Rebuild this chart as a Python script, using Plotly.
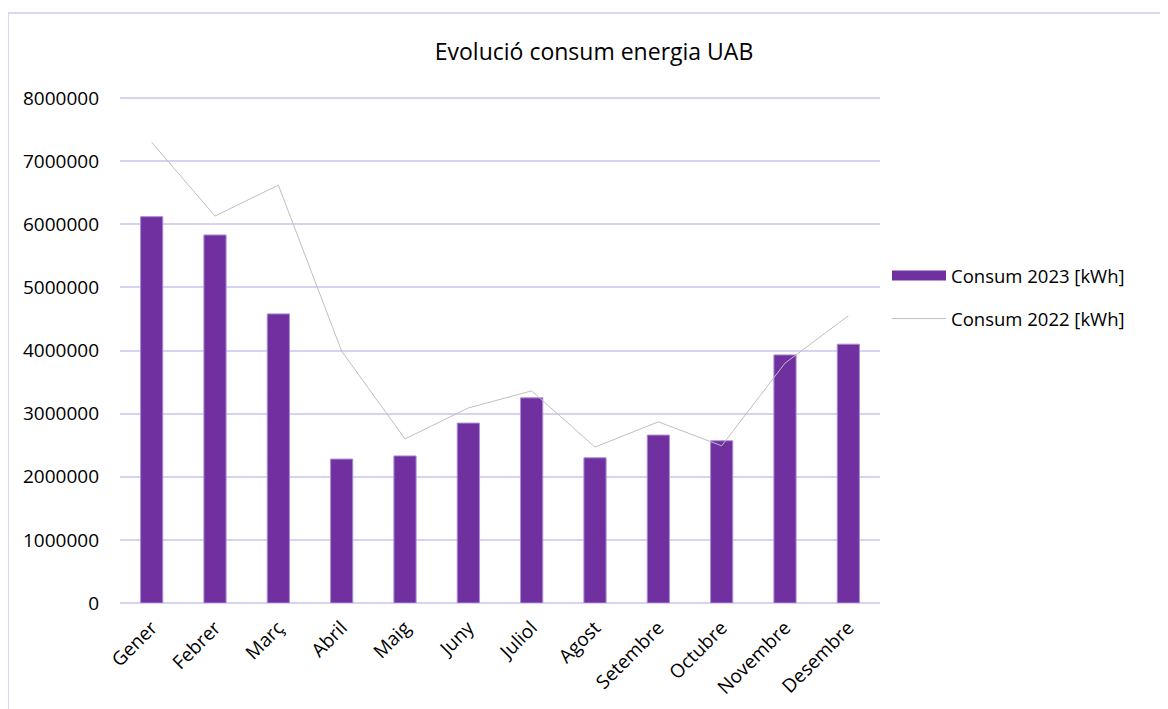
import plotly.graph_objects as go

months = ["Gener", "Febrer", "Març", "Abril", "Maig", "Juny", "Juliol",
          "Agost", "Setembre", "Octubre", "Novembre", "Desembre"]
consum_2023 = [6120000, 5830000, 4580000, 2280000, 2330000, 2850000, 3250000,
               2300000, 2660000, 2570000, 3930000, 4100000]
consum_2022 = [7300000, 6130000, 6620000, 3990000, 2600000, 3090000, 3360000,
               2470000, 2870000, 2490000, 3800000, 4550000]
y_ticks = [0, 1000000, 2000000, 3000000, 4000000, 5000000, 6000000, 7000000, 8000000]

FONT = "Open Sans"
GRID = "#d6d2f2"
PURPLE = "#7030a0"

fig = go.Figure()
fig.add_trace(go.Bar(
    x=months, y=consum_2023, name="Consum 2023 [kWh]",
    marker=dict(color=PURPLE, line=dict(color="#a98bd3", width=1)),
    width=0.35, showlegend=False,
))
# legend entry for the bars drawn as a wide rectangle (as in the original)
fig.add_trace(go.Scatter(
    x=[None], y=[None], name="Consum 2023 [kWh]", mode="lines",
    line=dict(color=PURPLE, width=12), legendgroup="a",
))
fig.add_trace(go.Scatter(
    x=months, y=consum_2022, name="Consum 2022 [kWh]", mode="lines",
    line=dict(color="#bfbfbf", width=1), legendgroup="b",
))

W, H = 1160, 701
L, R, T, B = 112, 872, 87, 595
y_top = 8000000 * (B - T) / 505

fig.update_layout(
    width=W, height=H,
    margin=dict(l=L, r=W - R, t=T, b=H - B, pad=0, autoexpand=False),
    paper_bgcolor="white", plot_bgcolor="white",
    font=dict(family=FONT, size=18, color="#000000"),
    title=dict(text="Evolució consum energia UAB", x=586 / W, xanchor="center",
               y=1 - 44 / H, yanchor="middle", font=dict(size=23, color="#000000")),
    xaxis=dict(showgrid=False, showline=False, ticks="", tickangle=-45,
               tickfont=dict(size=19), ticklabelstandoff=9, automargin=False),
    yaxis=dict(range=[0, y_top], tickvals=y_ticks, ticktext=[str(v) for v in y_ticks],
               showgrid=True, gridcolor=GRID, gridwidth=1.5, zeroline=True,
               zerolinecolor=GRID, zerolinewidth=1.5, showline=False, ticks="",
               tickfont=dict(size=19), ticklabelstandoff=20, automargin=False),
    legend=dict(x=(879 - L) / (R - L), xanchor="left", y=(B - 249) / (B - T),
                yanchor="top", traceorder="grouped", tracegroupgap=16,
                font=dict(size=18.5), itemwidth=54, bgcolor="rgba(0,0,0,0)"),
    showlegend=True,
    bargap=0.65,
)

fig.add_shape(type="rect", xref="paper", yref="paper",
              x0=(0 - L) / (R - L), x1=1.6, y0=-0.3, y1=(B - 5) / (B - T),
              line=dict(color="#cfcaea", width=1.5), fillcolor="rgba(0,0,0,0)",
              layer="below")

fig.write_html("out.html")
